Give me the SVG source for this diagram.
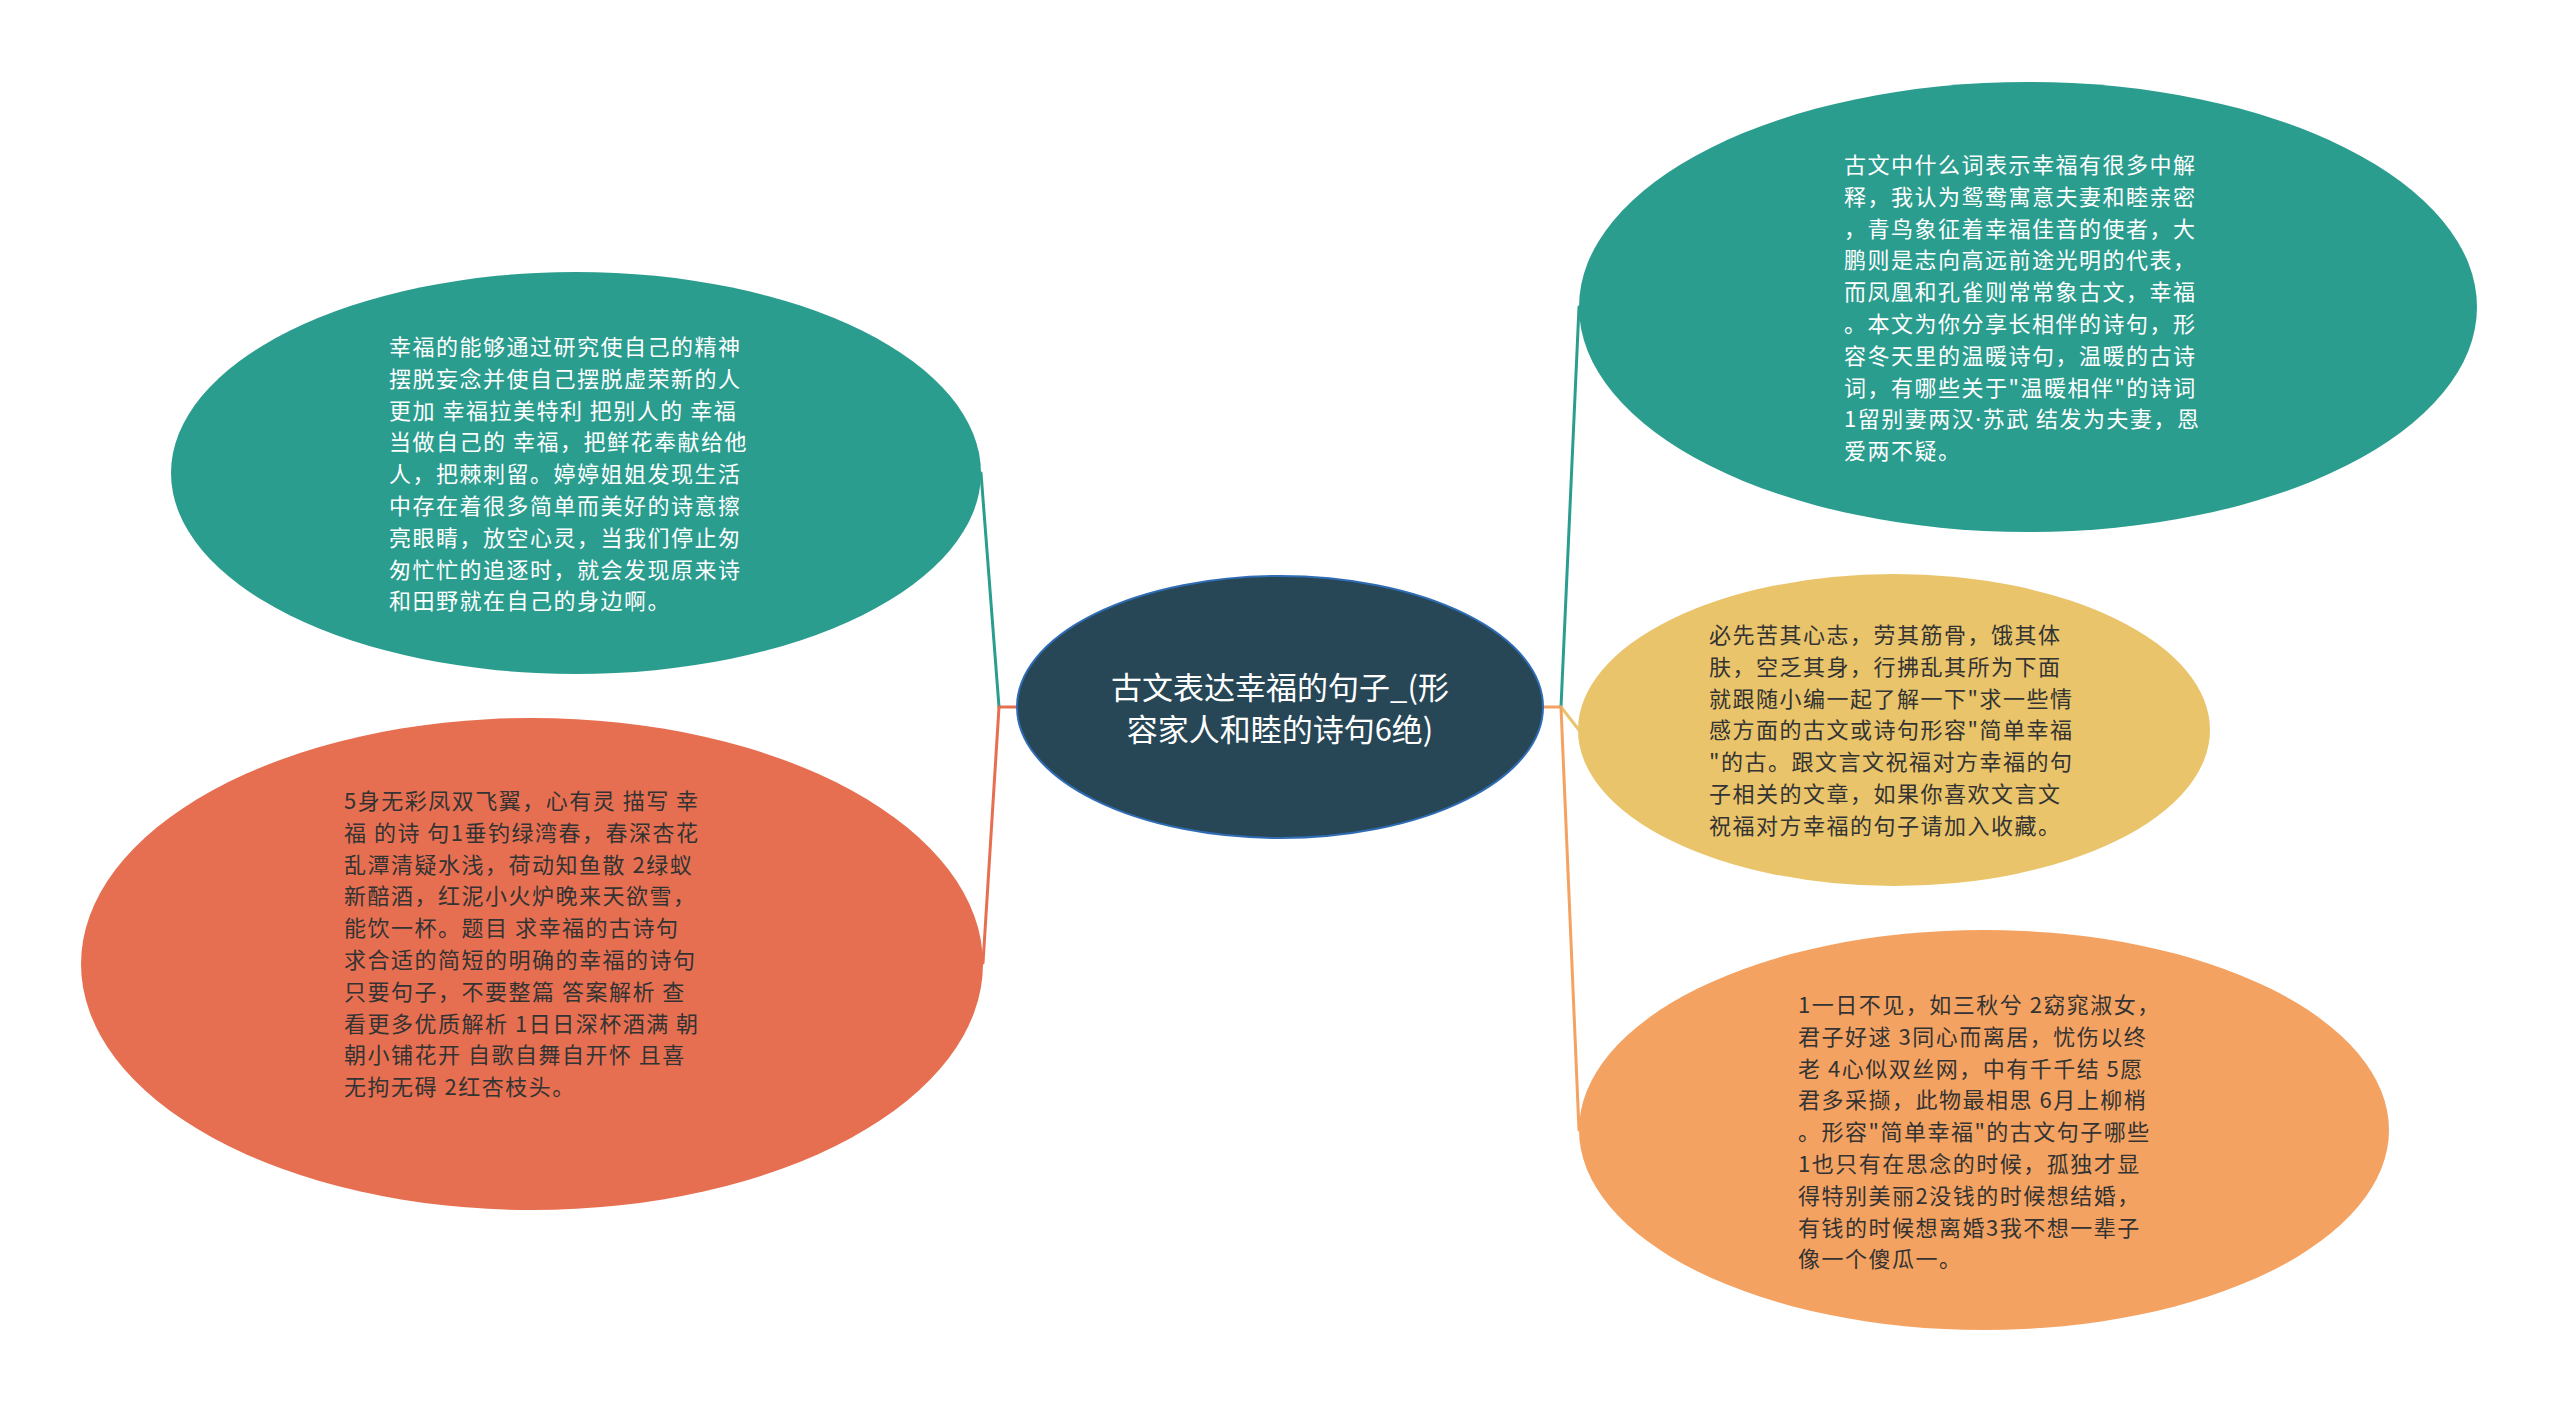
<svg xmlns="http://www.w3.org/2000/svg" width="2560" height="1416" viewBox="0 0 2560 1416">
<style>
  .t { font-family: "Noto Sans CJK SC", "Noto Sans", sans-serif; font-size: 22px; letter-spacing: 1.5px; }
  .light { fill: #ffffff; }
  .dark { fill: #333333; }
  .latin { font-family: "Noto Sans", sans-serif; }
  .title { font-family: "Noto Sans CJK SC", "Noto Sans", sans-serif; font-size: 31px; fill: #ffffff; text-anchor: middle; }
  .edge { fill: none; stroke-width: 3; stroke-linecap: round; stroke-linejoin: round; }
</style>
<rect width="2560" height="1416" fill="#ffffff"/>
<g id="connectors">
  <polyline class="edge" stroke="#e76f51" points="1017,707 999,707"/>
  <polyline class="edge" stroke="#2a9d8f" points="999,707 981,473"/>
  <polyline class="edge" stroke="#e76f51" points="999,707 983,963"/>
  <polyline class="edge" stroke="#f4a261" points="1543,707 1561,707"/>
  <polyline class="edge" stroke="#2a9d8f" points="1561,707 1579,307"/>
  <polyline class="edge" stroke="#e9c46a" points="1561,707 1579,730"/>
  <polyline class="edge" stroke="#f4a261" points="1561,707 1579,1130"/>
</g>
<g id="root">
  <ellipse cx="1280" cy="707" rx="263" ry="131" fill="#274756" stroke="#2f6cb3" stroke-width="2"/>
  <text class="title"><tspan x="1280" y="699">古文表达幸福的句子_(形</tspan><tspan x="1280" y="741">容家人和睦的诗句6绝)</tspan></text>
</g>
<g id="node-top-left">
  <ellipse cx="576" cy="473" rx="405" ry="201" fill="#2a9d8f"/>
  <text class="t light">
    <tspan x="389" y="355">幸福的能够通过研究使自己的精神</tspan>
    <tspan x="389" y="386.8">摆脱妄念并使自己摆脱虚荣新的人</tspan>
    <tspan x="389" y="418.6">更加 幸福拉美特利 把别人的 幸福</tspan>
    <tspan x="389" y="450.4">当做自己的 幸福，把鲜花奉献给他</tspan>
    <tspan x="389" y="482.2">人，把棘刺留。婷婷姐姐发现生活</tspan>
    <tspan x="389" y="514">中存在着很多简单而美好的诗意擦</tspan>
    <tspan x="389" y="545.8">亮眼睛，放空心灵，当我们停止匆</tspan>
    <tspan x="389" y="577.6">匆忙忙的追逐时，就会发现原来诗</tspan>
    <tspan x="389" y="609.4">和田野就在自己的身边啊。</tspan>
  </text>
</g>
<g id="node-bottom-left">
  <ellipse cx="532" cy="964" rx="451" ry="246" fill="#e76f51"/>
  <text class="t dark">
    <tspan x="344" y="809">5身无彩凤双飞翼，心有灵 描写 幸</tspan>
    <tspan x="344" y="840.8">福 的诗 句1垂钓绿湾春，春深杏花</tspan>
    <tspan x="344" y="872.6">乱潭清疑水浅，荷动知鱼散 2绿蚁</tspan>
    <tspan x="344" y="904.4">新醅酒，红泥小火炉晚来天欲雪，</tspan>
    <tspan x="344" y="936.2">能饮一杯。题目 求幸福的古诗句</tspan>
    <tspan x="344" y="968">求合适的简短的明确的幸福的诗句</tspan>
    <tspan x="344" y="999.8">只要句子，不要整篇 答案解析 查</tspan>
    <tspan x="344" y="1031.6">看更多优质解析 1日日深杯酒满 朝</tspan>
    <tspan x="344" y="1063.4">朝小铺花开 自歌自舞自开怀 且喜</tspan>
    <tspan x="344" y="1095.2">无拘无碍 2红杏枝头。</tspan>
  </text>
</g>
<g id="node-top-right">
  <ellipse cx="2028" cy="307" rx="449" ry="225" fill="#2a9d8f"/>
  <text class="t light">
    <tspan x="1844" y="173">古文中什么词表示幸福有很多中解</tspan>
    <tspan x="1844" y="204.8">释，我认为鸳鸯寓意夫妻和睦亲密</tspan>
    <tspan x="1844" y="236.6">，青鸟象征着幸福佳音的使者，大</tspan>
    <tspan x="1844" y="268.4">鹏则是志向高远前途光明的代表，</tspan>
    <tspan x="1844" y="300.2">而凤凰和孔雀则常常象古文，幸福</tspan>
    <tspan x="1844" y="332">。本文为你分享长相伴的诗句，形</tspan>
    <tspan x="1844" y="363.8">容冬天里的温暖诗句，温暖的古诗</tspan>
    <tspan x="1844" y="395.6">词，有哪些关于"温暖相伴"的诗词</tspan>
    <tspan x="1844" y="427.4">1留别妻两汉<tspan class="latin">·</tspan>苏武 结发为夫妻，恩</tspan>
    <tspan x="1844" y="459.2">爱两不疑。</tspan>
  </text>
</g>
<g id="node-middle-right">
  <ellipse cx="1894" cy="730" rx="316" ry="156" fill="#e9c46a"/>
  <text class="t dark">
    <tspan x="1709" y="643">必先苦其心志，劳其筋骨，饿其体</tspan>
    <tspan x="1709" y="674.8">肤，空乏其身，行拂乱其所为下面</tspan>
    <tspan x="1709" y="706.6">就跟随小编一起了解一下"求一些情</tspan>
    <tspan x="1709" y="738.4">感方面的古文或诗句形容"简单幸福</tspan>
    <tspan x="1709" y="770.2">"的古。跟文言文祝福对方幸福的句</tspan>
    <tspan x="1709" y="802">子相关的文章，如果你喜欢文言文</tspan>
    <tspan x="1709" y="833.8">祝福对方幸福的句子请加入收藏。</tspan>
  </text>
</g>
<g id="node-bottom-right">
  <ellipse cx="1984" cy="1130" rx="405" ry="200" fill="#f4a261"/>
  <text class="t dark">
    <tspan x="1798" y="1013">1一日不见，如三秋兮 2窈窕淑女，</tspan>
    <tspan x="1798" y="1044.8">君子好逑 3同心而离居，忧伤以终</tspan>
    <tspan x="1798" y="1076.6">老 4心似双丝网，中有千千结 5愿</tspan>
    <tspan x="1798" y="1108.4">君多采撷，此物最相思 6月上柳梢</tspan>
    <tspan x="1798" y="1140.2">。形容"简单幸福"的古文句子哪些</tspan>
    <tspan x="1798" y="1172">1也只有在思念的时候，孤独才显</tspan>
    <tspan x="1798" y="1203.8">得特别美丽2没钱的时候想结婚，</tspan>
    <tspan x="1798" y="1235.6">有钱的时候想离婚3我不想一辈子</tspan>
    <tspan x="1798" y="1267.4">像一个傻瓜一。</tspan>
  </text>
</g>
</svg>
